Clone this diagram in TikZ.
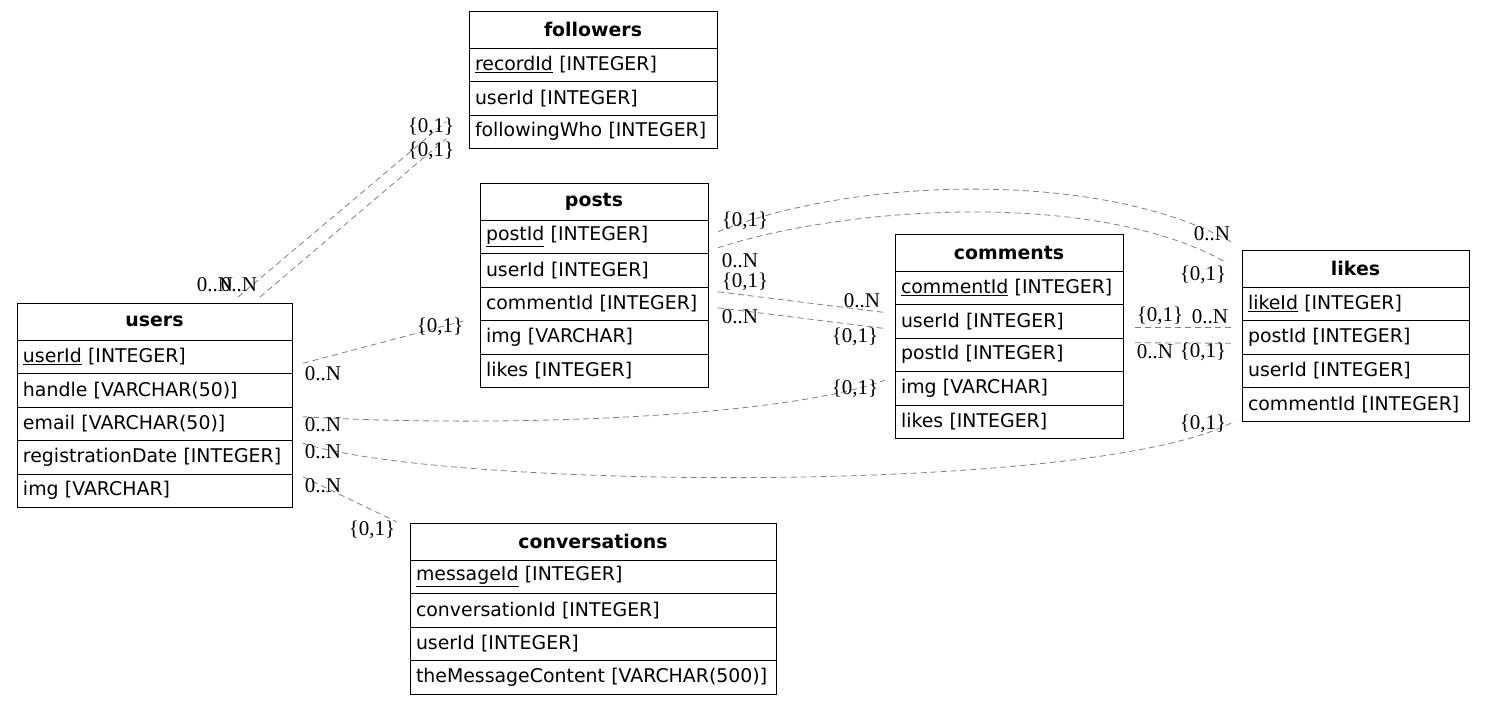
\documentclass[tikz,border=0pt]{standalone}
\usepackage{fontspec}
\setmainfont{Liberation Serif}
\newfontfamily\erfont{DejaVu Sans}
\usetikzlibrary{positioning}

\begin{document}
\begin{tikzpicture}[x=1pt,y=-1pt,
    tbl/.style={draw, line width=1pt, outer sep=0pt, inner xsep=6pt, inner ysep=0pt, text width=#1-12pt,
      align=left, minimum height=33.5pt, font=\erfont\fontsize{18.9}{22}\selectfont},
    hdr/.style={tbl=#1, align=center, minimum height=37pt,
      font=\erfont\bfseries\fontsize{18.9}{22}\selectfont},
    rel/.style={gray, line width=0.8pt, dash pattern=on 6pt off 4pt},
    lbl/.style={inner sep=0pt, text=black, font=\fontsize{21}{24}\selectfont}]
  \useasboundingbox (0,0) rectangle (1485,705);

  % users
  \node[hdr=275pt, anchor=north west] (users) at (17,303) {users};
  \node[tbl=275pt, below=0pt of users] (users-userid) {\underline{userId} [INTEGER]};
  \node[tbl=275pt, below=0pt of users-userid] (users-handle) {handle [VARCHAR(50)]};
  \node[tbl=275pt, below=0pt of users-handle] (users-email) {email [VARCHAR(50)]};
  \node[tbl=275pt, below=0pt of users-email] (users-regdate) {registrationDate [INTEGER]};
  \node[tbl=275pt, below=0pt of users-regdate] (users-img) {img [VARCHAR]};

  % followers
  \node[hdr=248pt, anchor=north west] (followers) at (469,11) {followers};
  \node[tbl=248pt, below=0pt of followers] (followers-recordid) {\underline{recordId} [INTEGER]};
  \node[tbl=248pt, below=0pt of followers-recordid] (followers-userid) {userId [INTEGER]};
  \node[tbl=248pt, below=0pt of followers-userid] (followers-who) {followingWho [INTEGER]};

  % posts
  \node[hdr=228pt, anchor=north west] (posts) at (480,183) {posts};
  \node[tbl=228pt, below=0pt of posts] (posts-postid) {\underline{postId} [INTEGER]};
  \node[tbl=228pt, below=0pt of posts-postid] (posts-userid) {userId [INTEGER]};
  \node[tbl=228pt, below=0pt of posts-userid] (posts-commentid) {commentId [INTEGER]};
  \node[tbl=228pt, below=0pt of posts-commentid] (posts-img) {img [VARCHAR]};
  \node[tbl=228pt, below=0pt of posts-img] (posts-likes) {likes [INTEGER]};

  % comments
  \node[hdr=228pt, anchor=north west] (comments) at (895,234) {comments};
  \node[tbl=228pt, below=0pt of comments] (comments-commentid) {\underline{commentId} [INTEGER]};
  \node[tbl=228pt, below=0pt of comments-commentid] (comments-userid) {userId [INTEGER]};
  \node[tbl=228pt, below=0pt of comments-userid] (comments-postid) {postId [INTEGER]};
  \node[tbl=228pt, below=0pt of comments-postid] (comments-img) {img [VARCHAR]};
  \node[tbl=228pt, below=0pt of comments-img] (comments-likes) {likes [INTEGER]};

  % likes
  \node[hdr=227pt, anchor=north west] (likes) at (1242,250) {likes};
  \node[tbl=227pt, below=0pt of likes] (likes-likeid) {\underline{likeId} [INTEGER]};
  \node[tbl=227pt, below=0pt of likes-likeid] (likes-postid) {postId [INTEGER]};
  \node[tbl=227pt, below=0pt of likes-postid] (likes-userid) {userId [INTEGER]};
  \node[tbl=227pt, below=0pt of likes-userid] (likes-commentid) {commentId [INTEGER]};

  % conversations
  \node[hdr=366pt, anchor=north west] (conversations) at (410,523) {conversations};
  \node[tbl=366pt, below=0pt of conversations] (conv-messageid) {\underline{messageId} [INTEGER]};
  \node[tbl=366pt, below=0pt of conv-messageid] (conv-convid) {conversationId [INTEGER]};
  \node[tbl=366pt, below=0pt of conv-convid] (conv-userid) {userId [INTEGER]};
  \node[tbl=366pt, below=0pt of conv-userid] (conv-content) {theMessageContent [VARCHAR(500)]};

  % users -- followers
  \draw[rel] ([shift={(-54,-6)}]users.north east) -- ([shift={(-23,-10)}]followers-who.west)
    node[lbl, at start, xshift=-23pt, yshift=12pt] {0..N}
    node[lbl, at end, xshift=-15pt, yshift=-5pt] {\{0,1\}};
  \draw[rel] ([shift={(-32,-6)}]users.north east) -- ([shift={(-23,7)}]followers-who.west)
    node[lbl, at start, xshift=-21pt, yshift=12pt] {0..N}
    node[lbl, at end, xshift=-15pt, yshift=-12pt] {\{0,1\}};

  % users -- posts, comments, likes, conversations
  \draw[rel] ([shift={(11,6.5)}]users-userid.east) -- ([shift={(-14,-17)}]posts-img.west)
    node[lbl, at start, xshift=20pt, yshift=-10pt] {0..N}
    node[lbl, at end, xshift=-26pt, yshift=-7pt] {\{0,1\}};
  \draw[rel] ([shift={(11,-7)}]users-email.east) .. controls (500,428) and (780,418) .. ([shift={(-10,-8)}]comments-img.west)
    node[lbl, at start, xshift=20pt, yshift=-8pt] {0..N}
    node[lbl, at end, xshift=-30pt, yshift=-9pt] {\{0,1\}};
  \draw[rel] ([shift={(11,-14)}]users-regdate.east) .. controls (450,490) and (1100,495) .. ([shift={(-7,0)}]likes-commentid.south west)
    node[lbl, at start, xshift=20pt, yshift=-8pt] {0..N}
    node[lbl, at end, xshift=-32pt, yshift=-3pt] {\{0,1\}};
  \draw[rel] ([shift={(11,-14)}]users-img.east) -- ([shift={(-13,-1)}]conversations.north west)
    node[lbl, at start, xshift=20pt, yshift=-9pt] {0..N}
    node[lbl, at end, xshift=-25pt, yshift=-8pt] {\{0,1\}};

  % posts -- likes
  \draw[rel] ([shift={(10,-5)}]posts-postid.east) .. controls (850,178) and (1100,168) .. ([shift={(-9,-7)}]likes.north west)
    node[lbl, at start, xshift=27pt, yshift=11pt] {\{0,1\}}
    node[lbl, at end, xshift=-21pt, yshift=9pt] {0..N};
  \draw[rel] ([shift={(10,11)}]posts-postid.east) .. controls (850,205) and (1100,190) .. ([shift={(-15,13)}]likes.north west)
    node[lbl, at start, xshift=22pt, yshift=-13pt] {0..N}
    node[lbl, at end, xshift=-24pt, yshift=-12pt] {\{0,1\}};

  % posts -- comments
  \draw[rel] ([shift={(10,-12)}]posts-commentid.east) -- ([shift={(-12,-9)}]comments-userid.west)
    node[lbl, at start, xshift=27pt, yshift=10pt] {\{0,1\}}
    node[lbl, at end, xshift=-21pt, yshift=12pt] {0..N};
  \draw[rel] ([shift={(10,4)}]posts-commentid.east) -- ([shift={(-12,7)}]comments-userid.west)
    node[lbl, at start, xshift=22pt, yshift=-9pt] {0..N}
    node[lbl, at end, xshift=-28pt, yshift=-9pt] {\{0,1\}};

  % comments -- likes
  \draw[rel] ([shift={(12,6)}]comments-userid.east) -- ([shift={(-10,-10)}]likes-postid.west)
    node[lbl, at start, xshift=25pt, yshift=11pt] {\{0,1\}}
    node[lbl, at end, xshift=-22pt, yshift=11pt] {0..N};
  \draw[rel] ([shift={(12,-12)}]comments-postid.east) -- ([shift={(-10,6)}]likes-postid.west)
    node[lbl, at start, xshift=20pt, yshift=-9pt] {0..N}
    node[lbl, at end, xshift=-29pt, yshift=-9pt] {\{0,1\}};
\end{tikzpicture}
\end{document}
